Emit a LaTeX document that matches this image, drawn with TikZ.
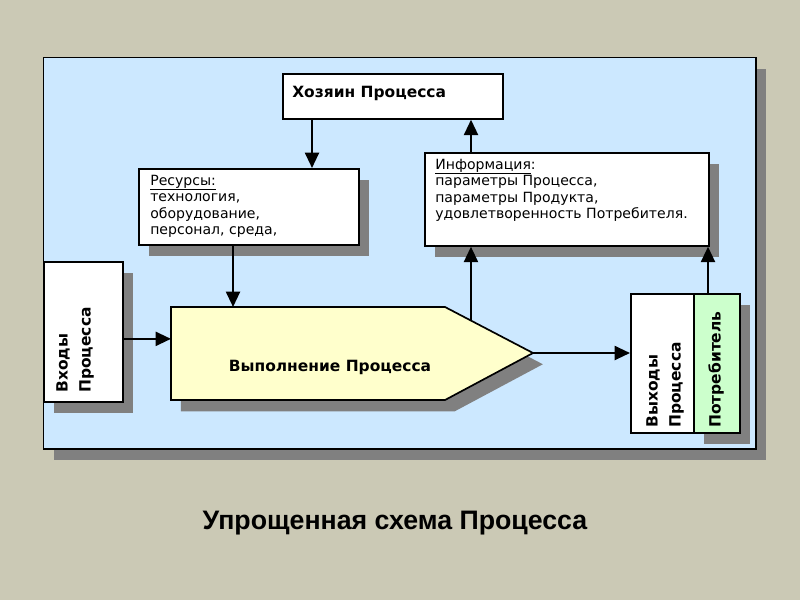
\documentclass[tikz,border=0pt]{standalone}
\usepackage{fontspec}
\setmainfont{Liberation Sans}
\newfontfamily\boxfont{DejaVu Sans}
\usetikzlibrary{arrows.meta, shadows, calc}
\definecolor{slidebg}{RGB}{203,201,181}
\definecolor{panelblue}{RGB}{204,232,255}
\definecolor{procyellow}{RGB}{255,255,204}
\definecolor{custgreen}{RGB}{204,255,204}
\definecolor{shadowgray}{RGB}{128,128,128}
\newcommand{\ulword}[1]{\underline{\raisebox{0pt}[\height][1.4pt]{#1}}}
\tikzstyle{arrow} = [line width=1.6pt,-{Triangle[length=11pt,width=10pt]}]
\tikzstyle{box} = [draw, line width=1.2pt, fill=white, anchor=north west, inner sep=0pt]
\tikzstyle{boxshadow} = [drop shadow={shadow xshift=7pt, shadow yshift=-8pt, opacity=1, fill=shadowgray}]
\tikzstyle{boxtext} = [anchor=north west, align=left, inner sep=0pt, font=\boxfont\fontsize{10}{11.7}\selectfont]
\tikzstyle{boldtext} = [inner sep=0pt, font=\boxfont\bfseries\fontsize{11}{16.4}\selectfont]

\begin{document}
\begin{tikzpicture}[x=0.025cm, y=-0.025cm]

        %slide
        \fill[slidebg] (0,0) rectangle (800,600);
        \useasboundingbox (0,0) rectangle (800,600);
        \node[box, fill=panelblue, line width=1pt, boxshadow, minimum width=17.8cm, minimum height=9.775cm] (panel) at (43,57) {};

        %boxes
        \node[box, minimum width=5.5cm, minimum height=1.125cm] (owner) at (282,73) {};
        \node[boldtext, anchor=west] (ownertxt) at (292,93) {Хозяин Процесса};

        \node[box, boxshadow, minimum width=5.5cm, minimum height=1.9cm] (res) at (138,168) {};
        \node[boxtext] (restxt) at (150,175) {\ulword{Ресурсы:}\\технология,\\оборудование,\\персонал, среда,};

        \node[box, boxshadow, minimum width=7.1cm, minimum height=2.325cm] (info) at (424,152) {};
        \node[boxtext] (infotxt) at (435,159) {\ulword{Информация}:\\параметры Процесса,\\параметры Продукта,\\удовлетворенность Потребителя.};

        \node[box, boxshadow, minimum width=1.975cm, minimum height=3.5cm] (inputs) at (43,261) {};
        \node[boldtext, rotate=90, anchor=north west, align=left] (intxt) at (56,393) {Входы\\Процесса};

        %process
        \draw[line width=1.2pt, fill=procyellow, boxshadow] (171,307) coordinate (pnw) -- (445,307) coordinate (pcorner)
            -- (533,353) coordinate (ptip) -- (445,400) -- (171,400) -- cycle;
        \node[boldtext] (proc) at (330,367) {Выполнение Процесса};
        \coordinate (pedge) at ($(pcorner)!0.295!(ptip)$);

        %outputs
        \node[box, fill=custgreen, boxshadow, minimum width=1.15cm, minimum height=3.475cm] (customer) at (693,293) {};
        \node[box, minimum width=1.575cm, minimum height=3.475cm] (outputs) at (630,293) {};
        \node[boldtext, rotate=90, anchor=north west, align=left] (outtxt) at (646,428) {Выходы\\Процесса};
        \node[boldtext, rotate=90, anchor=north west] (custtxt) at (708,428) {Потребитель};

        %Arrows
        \draw[arrow] ([xshift=0.75cm]owner.south west) coordinate (a1) -- (a1 |- res.north);
        \draw[arrow] ([xshift=1.175cm]info.north west) coordinate (a2) -- (a2 |- owner.south);
        \draw[arrow] ([xshift=2.375cm]res.south west) coordinate (a3) -- (a3 |- pnw);
        \draw[arrow] ([yshift=-0.175cm]inputs.east) coordinate (a4) -- (a4 -| pnw);
        \draw[arrow] (pedge) -- (pedge |- info.south);
        \draw[arrow] (ptip) -- (ptip -| outputs.west);
        \draw[arrow] ([xshift=0.375cm]customer.north west) coordinate (a7) -- (a7 |- info.south);

        %title
        \node[font=\bfseries\fontsize{19}{23}\selectfont] (title) at (395,523) {Упрощенная схема Процесса};

\end{tikzpicture}
\end{document}
